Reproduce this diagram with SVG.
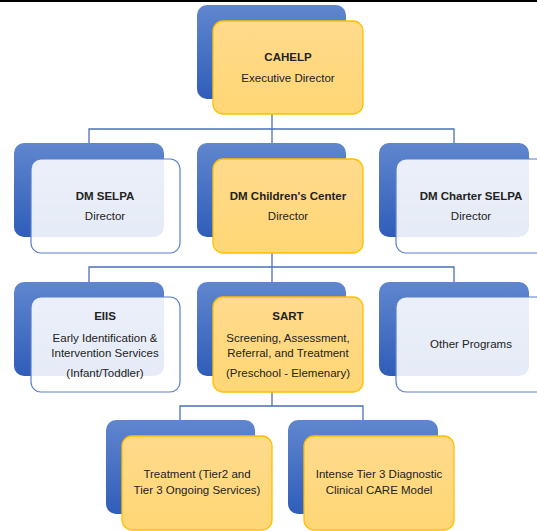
<svg xmlns="http://www.w3.org/2000/svg" width="537" height="531" viewBox="0 0 537 531">
<defs>
<linearGradient id="gb" x1="0" y1="0" x2="0" y2="1">
<stop offset="0" stop-color="#6086CE"/>
<stop offset="1" stop-color="#2F5DB9"/>
</linearGradient>
<linearGradient id="gy" x1="0" y1="0" x2="0" y2="1">
<stop offset="0" stop-color="#FFDA8C"/>
<stop offset="1" stop-color="#FFD775"/>
</linearGradient>
<style>
.back{fill:url(#gb);}
.fy{fill:url(#gy);stroke:#FFC000;stroke-width:1.3;}
.fl{fill:#FFFFFF;fill-opacity:0.88;stroke:#5B7FC8;stroke-width:1.2;}
.conn{fill:none;stroke:#4A70B8;stroke-width:1.3;}
text{font-family:"Liberation Sans",Arial,sans-serif;font-size:11.5px;fill:#222;text-anchor:middle;}
.b{font-weight:bold;}
</style>
</defs>
<rect x="0" y="0" width="537" height="2" fill="#000"/>
<g id="connectors">
<path class="conn" d="M272 114V129M89 143V129H454V143M272 129V143"/>
<path class="conn" d="M272 253V267M89 282V267H454V282M272 267V282"/>
<path class="conn" d="M272 392V406M180 420V406H363V420"/>
</g>
<g id="cahelp">
<rect class="back" x="197" y="5" width="149" height="94" rx="10"/>
<rect class="fy" x="213" y="21" width="150" height="93" rx="10"/>
<text class="b" x="288" y="61">CAHELP</text>
<text x="288" y="82">Executive Director</text>
</g>
<g id="dm-selpa">
<rect class="back" x="14" y="143" width="150" height="94" rx="10"/>
<rect class="fl" x="31" y="159" width="149" height="94" rx="10"/>
<text class="b" x="105" y="200">DM SELPA</text>
<text x="105" y="220">Director</text>
</g>
<g id="dm-childrens-center">
<rect class="back" x="197" y="143" width="149" height="94" rx="10"/>
<rect class="fy" x="213" y="159" width="150" height="94" rx="10"/>
<text class="b" x="288" y="200">DM Children's Center</text>
<text x="288" y="220">Director</text>
</g>
<g id="dm-charter-selpa">
<rect class="back" x="379" y="143" width="150" height="94" rx="10"/>
<rect class="fl" x="396" y="159" width="150" height="94" rx="10"/>
<text class="b" x="471" y="200">DM Charter SELPA</text>
<text x="471" y="220">Director</text>
</g>
<g id="eiis">
<rect class="back" x="14" y="282" width="150" height="94" rx="10"/>
<rect class="fl" x="31" y="297" width="149" height="95" rx="10"/>
<text class="b" x="105" y="320">EIIS</text>
<text x="105" y="342">Early Identification &amp;</text>
<text x="105" y="357">Intervention Services</text>
<text x="105" y="377">(Infant/Toddler)</text>
</g>
<g id="sart">
<rect class="back" x="197" y="282" width="149" height="94" rx="10"/>
<rect class="fy" x="213" y="297" width="150" height="95" rx="10"/>
<text class="b" x="288" y="320">SART</text>
<text x="288" y="342">Screening, Assessment,</text>
<text x="288" y="357">Referral, and Treatment</text>
<text x="288" y="377">(Preschool - Elemenary)</text>
</g>
<g id="other-programs">
<rect class="back" x="379" y="282" width="150" height="94" rx="10"/>
<rect class="fl" x="396" y="297" width="150" height="95" rx="10"/>
<text x="471" y="348">Other Programs</text>
</g>
<g id="treatment">
<rect class="back" x="106" y="420" width="149" height="94" rx="10"/>
<rect class="fy" x="122" y="436" width="150" height="94" rx="10"/>
<text x="197" y="478">Treatment (Tier2 and</text>
<text x="197" y="494">Tier 3 Ongoing Services)</text>
</g>
<g id="intense-tier3">
<rect class="back" x="288" y="420" width="150" height="94" rx="10"/>
<rect class="fy" x="304" y="436" width="150" height="94" rx="10"/>
<text x="379" y="478">Intense Tier 3 Diagnostic</text>
<text x="379" y="494">Clinical CARE Model</text>
</g>
</svg>
